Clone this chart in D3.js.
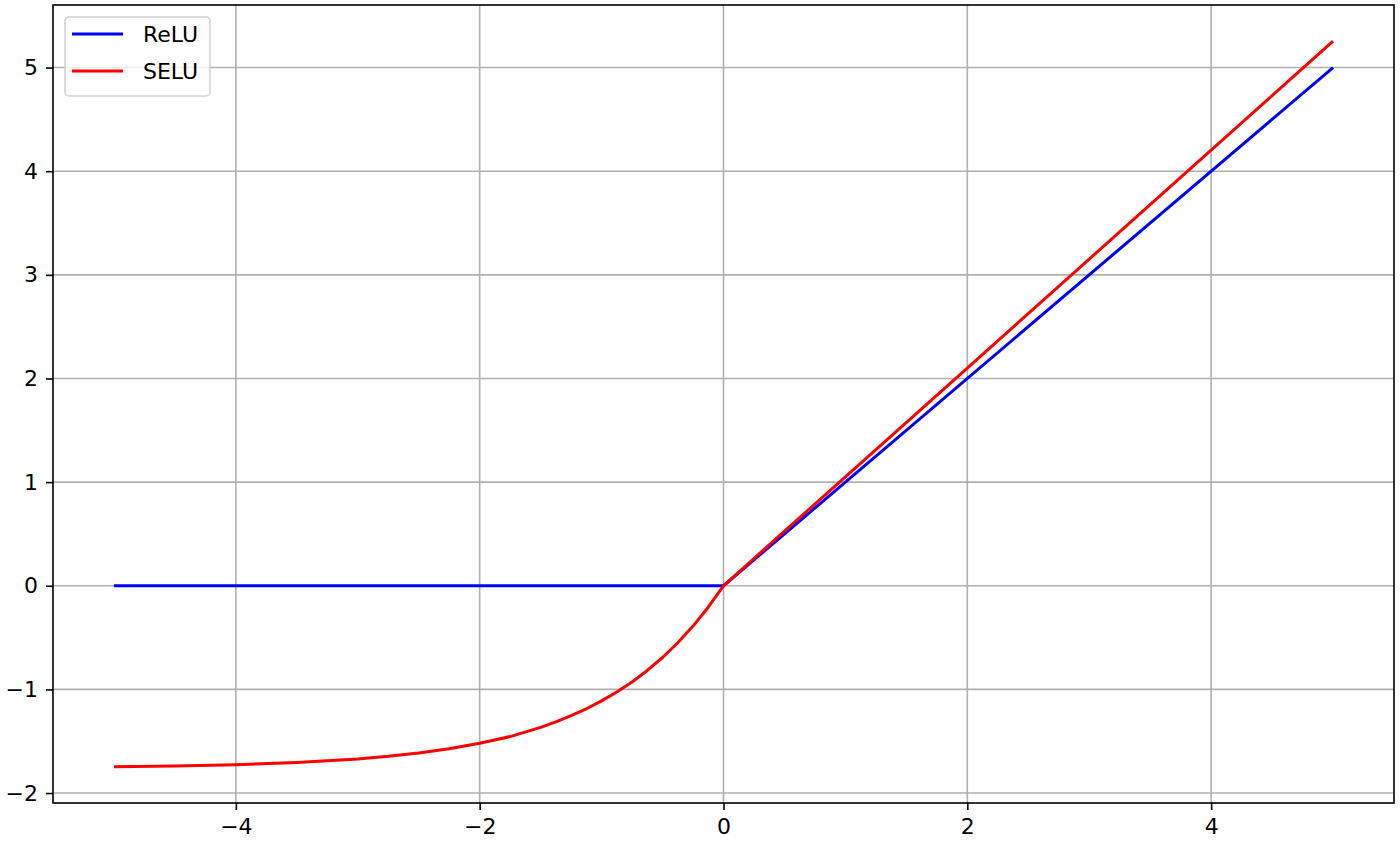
<!DOCTYPE html>
<html>
<head>
<meta charset="utf-8">
<script src="https://cdn.jsdelivr.net/npm/d3@7"></script>
<style>
html,body{margin:0;padding:0;background:#fff;}
text{font-family:"DejaVu Sans",sans-serif;}
</style>
</head>
<body>
<svg id="chart" width="1400" height="843"></svg>
<script>
// Data
const reluX = [-5, 0, 5];
const reluY = [0, 0, 5];
const seluX = [-5, -4.5, -4, -3.5, -3, -2.75, -2.5, -2.25, -2, -1.75, -1.5, -1.375, -1.25, -1.125, -1, -0.875, -0.75, -0.625, -0.5, -0.375, -0.25, -0.125, 0, 1, 2, 3, 4, 5];
const seluY = [-1.746, -1.739, -1.726, -1.705, -1.671, -1.646, -1.614, -1.573, -1.520, -1.455, -1.366, -1.314, -1.254, -1.187, -1.111, -1.025, -0.928, -0.817, -0.692, -0.550, -0.389, -0.207, 0, 1.051, 2.101, 3.152, 4.203, 5.254];
const xTicks = [-4, -2, 0, 2, 4];
const yTicks = [-2, -1, 0, 1, 2, 3, 4, 5];
const seriesNames = ["ReLU", "SELU"];
const seriesColors = ["#0000ff", "#ff0000"];

const svg = d3.select("#chart");
const L = 53, R = 1394, T = 5, B = 803;
const x = d3.scaleLinear().domain([-5.5, 5.5]).range([L, R]);
const y = d3.scaleLinear().domain([-2.096, 5.6035]).range([B, T]);

// grid
const g = svg.append("g");
g.selectAll(".vg").data(xTicks).join("line")
  .attr("x1", d => x(d)).attr("x2", d => x(d)).attr("y1", T).attr("y2", B)
  .attr("stroke", "#b0b0b0").attr("stroke-width", 1.6);
g.selectAll(".hg").data(yTicks).join("line")
  .attr("y1", d => y(d)).attr("y2", d => y(d)).attr("x1", L).attr("x2", R)
  .attr("stroke", "#b0b0b0").attr("stroke-width", 1.6);

// axes
const fmt = d => d < 0 ? "\u2212" + Math.abs(d) : String(d);
const xAxis = d3.axisBottom(x).tickValues(xTicks).tickSize(7).tickPadding(8).tickFormat(fmt);
const yAxis = d3.axisLeft(y).tickValues(yTicks).tickSize(7).tickPadding(8).tickFormat(fmt);
const xa = svg.append("g").attr("transform", `translate(0,${B})`).call(xAxis);
const ya = svg.append("g").attr("transform", `translate(${L},0)`).call(yAxis);
[xa, ya].forEach(a => {
  a.select(".domain").remove();
  a.selectAll(".tick line").attr("stroke", "#000").attr("stroke-width", 1.6);
  a.selectAll(".tick text").attr("fill", "#000").style("font-size", "22px").style("font-family", '"DejaVu Sans", sans-serif');
});

// lines
const line = d3.line().x(d => x(d[0])).y(d => y(d[1])).curve(d3.curveLinear);
const reluData = reluX.map((v, i) => [v, reluY[i]]);
const seluData = seluX.map((v, i) => [v, seluY[i]]);
svg.append("path").datum(reluData).attr("d", line)
  .attr("fill", "none").attr("stroke", seriesColors[0]).attr("stroke-width", 3)
  .attr("stroke-linejoin", "round");
svg.append("path").datum(seluData).attr("d", line)
  .attr("fill", "none").attr("stroke", seriesColors[1]).attr("stroke-width", 3)
  .attr("stroke-linejoin", "round");

// frame
svg.append("rect").attr("x", L).attr("y", T).attr("width", R - L).attr("height", B - T)
  .attr("fill", "none").attr("stroke", "#000").attr("stroke-width", 1.6);

// legend
const lg = svg.append("g");
lg.append("rect").attr("x", 65).attr("y", 17).attr("width", 145).attr("height", 79).attr("rx", 4)
  .attr("fill", "rgba(255,255,255,0.8)").attr("stroke", "#d0d0d0").attr("stroke-width", 1.5);
seriesNames.forEach((n, i) => {
  const yy = 34 + i * 37;
  lg.append("line").attr("x1", 72).attr("x2", 123).attr("y1", yy).attr("y2", yy)
    .attr("stroke", seriesColors[i]).attr("stroke-width", 3);
  lg.append("text").attr("x", 143).attr("y", yy + 8).text(n)
    .style("font-size", "22px").attr("fill", "#000");
});
</script>
</body>
</html>
